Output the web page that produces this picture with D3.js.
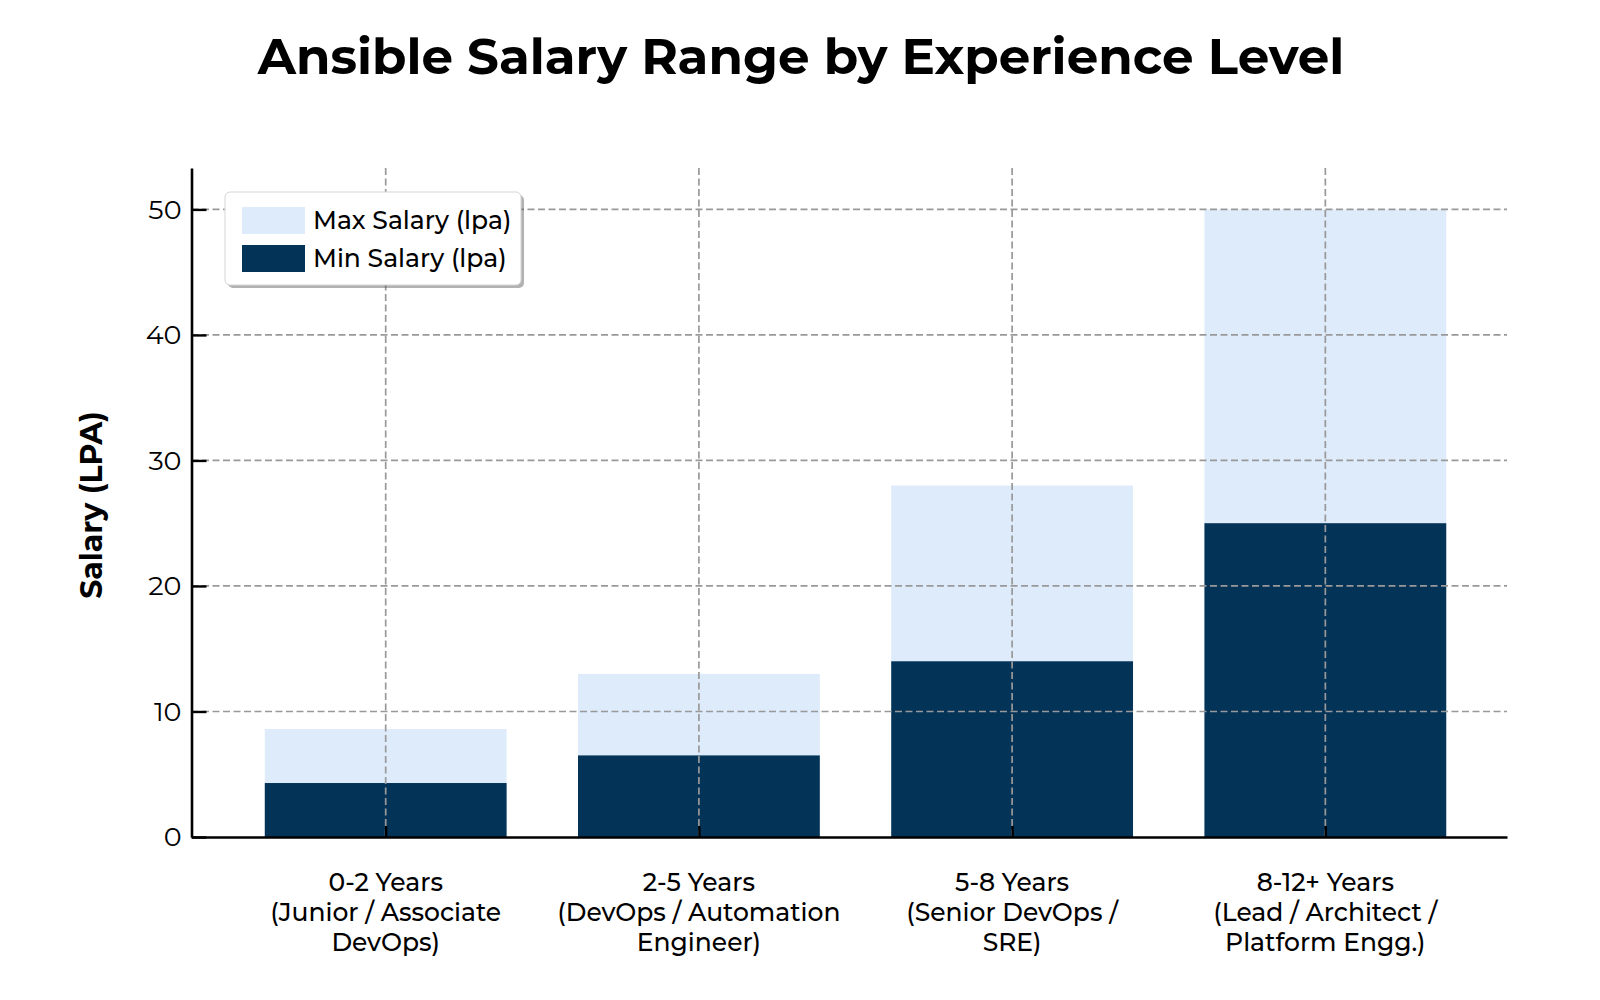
<!DOCTYPE html>
<html>
<head>
<meta charset="utf-8">
<script src="https://cdn.jsdelivr.net/npm/d3@7"></script>
<style>
  body { margin: 0; background: #fff; }
  text { font-family: "Montserrat", "DejaVu Sans", sans-serif; fill: #000; }
</style>
</head>
<body>
<script>
// data
var categories = [
  ["0-2 Years", "(Junior / Associate", "DevOps)"],
  ["2-5 Years", "(DevOps / Automation", "Engineer)"],
  ["5-8 Years", "(Senior DevOps /", "SRE)"],
  ["8-12+ Years", "(Lead / Architect /", "Platform Engg.)"]
];
var minSalary = [4.3, 6.5, 14, 25];
var maxSalary = [8.6, 13, 28, 50];
var yTicks = [0, 10, 20, 30, 40, 50];
var seriesNames = ["Max Salary (lpa)", "Min Salary (lpa)"];

var W = 1600, H = 1000;
var lightBlue = "#deebfb", navy = "#043358";

var svg = d3.select("body").append("svg")
    .attr("width", W).attr("height", H);

var x = d3.scaleLinear().domain([-0.62, 3.58]).range([191.5, 1507]);
var y = d3.scaleLinear().domain([0, 53.3]).range([837, 168]);
var barW = x(0.772) - x(0);

// fits a text element to a target width by changing font size
function fitWidth(sel, target) {
  var w = sel.node().getComputedTextLength();
  var fs = parseFloat(sel.attr("font-size"));
  sel.attr("font-size", fs * target / w);
}

// title
var title = svg.append("text")
    .attr("x", 801).attr("y", 74)
    .attr("text-anchor", "middle")
    .attr("font-size", 46).attr("font-weight", "bold")
    .text("Ansible Salary Range by Experience Level");
fitWidth(title, 1087);

// bars: max behind, min on top
var idx = d3.range(categories.length);
svg.append("g").selectAll("rect.max").data(idx).join("rect")
    .attr("x", function(i) { return x(i) - barW / 2; })
    .attr("y", function(i) { return y(maxSalary[i]); })
    .attr("width", barW)
    .attr("height", function(i) { return y(0) - y(maxSalary[i]); })
    .attr("fill", lightBlue);
svg.append("g").selectAll("rect.min").data(idx).join("rect")
    .attr("x", function(i) { return x(i) - barW / 2; })
    .attr("y", function(i) { return y(minSalary[i]); })
    .attr("width", barW)
    .attr("height", function(i) { return y(0) - y(minSalary[i]); })
    .attr("fill", navy);

// grid (dashed, over bars)
var grid = svg.append("g")
    .attr("stroke", "#999").attr("stroke-width", 1.7)
    .attr("stroke-dasharray", "7,3.5");
grid.selectAll("line.h").data(yTicks.slice(1)).join("line")
    .attr("x1", x.range()[0]).attr("x2", x.range()[1])
    .attr("y1", function(d) { return y(d); })
    .attr("y2", function(d) { return y(d); });
grid.selectAll("line.v").data(idx).join("line")
    .attr("x1", function(i) { return x(i); })
    .attr("x2", function(i) { return x(i); })
    .attr("y1", y.range()[1]).attr("y2", y(0));

// y axis
var yAxis = svg.append("g")
    .attr("transform", "translate(" + x.range()[0] + ",0)")
    .call(d3.axisLeft(y).tickValues(yTicks).tickSizeInner(-15).tickSizeOuter(0).tickPadding(10));
yAxis.select(".domain").attr("stroke", "#000").attr("stroke-width", 2.6);
yAxis.selectAll(".tick line").attr("stroke", "#000").attr("stroke-width", 2.4);
yAxis.selectAll(".tick text")
    .attr("font-size", 27).attr("font-family", null).attr("fill", "#000");
yAxis.attr("font-family", null);

// x axis
var xAxis = svg.append("g")
    .attr("transform", "translate(0," + y(0) + ")")
    .call(d3.axisBottom(x).tickValues(idx).tickSizeInner(-11).tickSizeOuter(0).tickFormat(""));
xAxis.select(".domain").attr("stroke", "#000").attr("stroke-width", 2.6);
xAxis.selectAll(".tick line").attr("stroke", "#000").attr("stroke-width", 2.4);
xAxis.attr("font-family", null);

var xl = svg.append("g").selectAll("text").data(idx).join("text")
    .attr("text-anchor", "middle")
    .attr("font-size", 25).attr("font-weight", 500)
    .attr("x", function(i) { return x(i); })
    .attr("y", 891);
xl.selectAll("tspan").data(function(i) { return categories[i]; }).join("tspan")
    .attr("x", function() { return d3.select(this.parentNode).attr("x"); })
    .attr("dy", function(d, j) { return j === 0 ? 0 : 30; })
    .text(function(d) { return d; });

// y label
svg.append("text")
    .attr("transform", "translate(102,505) rotate(-90)")
    .attr("text-anchor", "middle")
    .attr("font-size", 30).attr("font-weight", "bold")
    .text("Salary (LPA)");

// legend
var leg = svg.append("g").attr("transform", "translate(225,192)");
leg.append("rect")
    .attr("x", 3).attr("y", 3).attr("width", 296).attr("height", 93)
    .attr("rx", 5).attr("fill", "#555").attr("opacity", 0.45);
leg.append("rect")
    .attr("width", 296).attr("height", 93).attr("rx", 5)
    .attr("fill", "#fff").attr("stroke", "#d5d5d5").attr("stroke-width", 1);
var legItems = leg.selectAll("g.item").data([lightBlue, navy]).join("g")
    .attr("transform", function(d, j) { return "translate(17," + (15 + j * 38) + ")"; });
legItems.append("rect")
    .attr("width", 63).attr("height", 27).attr("fill", function(d) { return d; });
legItems.append("text")
    .attr("x", 71).attr("y", 22)
    .attr("font-size", 25).attr("font-weight", 500)
    .text(function(d, j) { return seriesNames[j]; });
</script>
</body>
</html>
